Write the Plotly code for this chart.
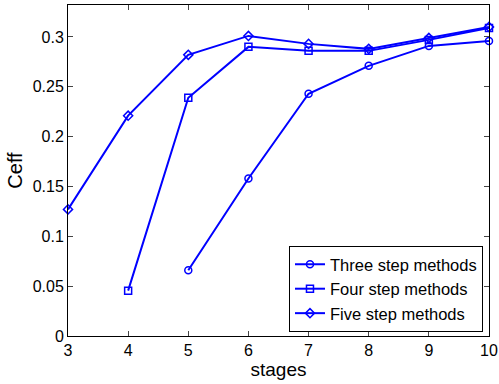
import plotly.graph_objects as go

stages_three = [5, 6, 7, 8, 9, 10]
ceff_three = [0.066, 0.158, 0.243, 0.271, 0.291, 0.296]
stages_four = [4, 5, 6, 7, 8, 9, 10]
ceff_four = [0.0455, 0.239, 0.290, 0.286, 0.286, 0.297, 0.309]
stages_five = [3, 4, 5, 6, 7, 8, 9, 10]
ceff_five = [0.127, 0.221, 0.282, 0.301, 0.293, 0.288, 0.299, 0.310]

x_ticks = [3, 4, 5, 6, 7, 8, 9, 10]
y_ticks = [0, 0.05, 0.1, 0.15, 0.2, 0.25, 0.3]
y_tick_labels = ["0", "0.05", "0.1", "0.15", "0.2", "0.25", "0.3"]

blue = "#0000FF"
font = "Liberation Sans, Arial, sans-serif"

fig = go.Figure()
for name, xs, ys, sym in [
    ("Three step methods", stages_three, ceff_three, "circle-open"),
    ("Four step methods", stages_four, ceff_four, "square-open"),
    ("Five step methods", stages_five, ceff_five, "diamond-open"),
]:
    fig.add_trace(go.Scatter(
        x=xs, y=ys, name=name, mode="lines+markers",
        line=dict(color=blue, width=2),
        marker=dict(symbol=sym, size=7, color=blue, line=dict(color=blue, width=1.5)),
        cliponaxis=False,
    ))

fig.update_layout(
    width=499, height=384,
    margin=dict(l=68, r=10, t=5, b=48, autoexpand=False),
    paper_bgcolor="white", plot_bgcolor="white",
    font=dict(family=font, size=16, color="black"),
    showlegend=True,
    legend=dict(
        x=0.9857, y=0.012, xanchor="right", yanchor="bottom",
        bgcolor="white", bordercolor="black", borderwidth=1,
        font=dict(size=16.5), tracegroupgap=0, itemwidth=30,
    ),
)
fig.update_xaxes(
    range=[3, 10], tickvals=x_ticks, ticks="inside", ticklen=5,
    showline=True, linecolor="black", linewidth=1, mirror="ticks",
    showgrid=False, zeroline=False, automargin=False,
    title=dict(text="stages", font=dict(size=19), standoff=0),
    tickfont=dict(size=16),
)
fig.update_yaxes(
    range=[0, 0.332], tickvals=y_ticks, ticktext=y_tick_labels,
    ticks="inside", ticklen=5,
    showline=True, linecolor="black", linewidth=1, mirror="ticks",
    showgrid=False, zeroline=False, automargin=False,
    title=dict(text="Ceff", font=dict(size=20), standoff=4),
    tickfont=dict(size=16),
)

fig.write_html(
    "out.html",
    config={"displayModeBar": False},
    post_script="document.body.style.margin='0';document.body.style.overflow='hidden';",
)
